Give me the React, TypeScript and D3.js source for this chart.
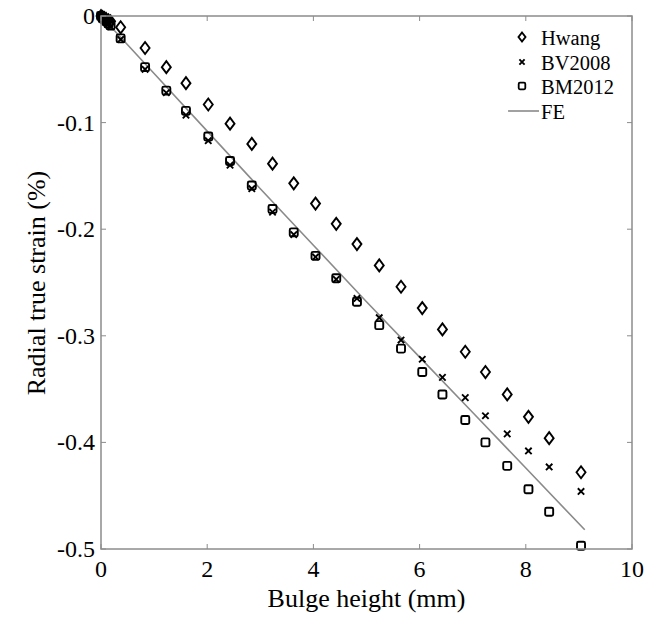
import React from "react";
import * as d3 from "d3";

const xValues = [0, 0.03, 0.06, 0.1, 0.14, 0.18, 0.37, 0.83, 1.23, 1.6, 2.02, 2.43, 2.84, 3.23, 3.63, 4.04, 4.43, 4.82, 5.24, 5.65, 6.05, 6.43, 6.86, 7.24, 7.65, 8.05, 8.44, 9.04];
const hwang = [0, -0.001, -0.002, -0.003, -0.004, -0.005, -0.0106, -0.030, -0.048, -0.063, -0.083, -0.101, -0.120, -0.1385, -0.157, -0.176, -0.195, -0.214, -0.234, -0.254, -0.274, -0.294, -0.315, -0.334, -0.355, -0.376, -0.396, -0.428];
const bv2008 = [0, -0.002, -0.003, -0.005, -0.007, -0.010, -0.022, -0.050, -0.072, -0.093, -0.117, -0.140, -0.162, -0.184, -0.205, -0.226, -0.247, -0.265, -0.283, -0.304, -0.322, -0.339, -0.358, -0.375, -0.392, -0.408, -0.423, -0.446];
const bm2012 = [0, -0.002, -0.003, -0.005, -0.007, -0.009, -0.021, -0.048, -0.070, -0.089, -0.113, -0.136, -0.159, -0.181, -0.203, -0.225, -0.246, -0.268, -0.290, -0.312, -0.334, -0.355, -0.379, -0.400, -0.422, -0.444, -0.465, -0.497];
const feX = [0, 1, 2, 3, 4, 5, 6, 7, 8, 9.11];
const feY = [0, -0.054, -0.108, -0.162, -0.215, -0.268, -0.320, -0.372, -0.424, -0.482];
const xTicks = [0, 2, 4, 6, 8, 10];
const yTicks = [0, -0.1, -0.2, -0.3, -0.4, -0.5];
const legendLabels = ["Hwang", "BV2008", "BM2012", "FE"];

const W = 661, H = 619;
const L = 101, R = 632, T = 16, B = 549;
const FONT = "'Liberation Serif', 'Times New Roman', serif";
const AXIS = "#8c8c8c";

export default function App() {
  const x = d3.scaleLinear().domain([0, 10]).range([L, R]);
  const y = d3.scaleLinear().domain([-0.5, 0]).range([B, T]);
  const line = d3.line<number>().x((_, i) => x(feX[i])).y((d) => y(d));

  const diamond = (cx: number, cy: number, w = 4.5, h = 6) =>
    `M${cx},${cy - h}L${cx + w},${cy}L${cx},${cy + h}L${cx - w},${cy}Z`;
  const cross = (cx: number, cy: number, s = 3.2) =>
    `M${cx - s},${cy - s}L${cx + s},${cy + s}M${cx - s},${cy + s}L${cx + s},${cy - s}`;

  const tl = 5;
  const legX = 522, legY = [37, 62, 86, 111];

  return (
    <svg width={W} height={H} style={{ position: "absolute", left: 0, top: 0, background: "#fff" }}>
      <rect x={0} y={0} width={W} height={H} fill="#fff" />
      {/* FE line */}
      <path d={line(feY) || ""} fill="none" stroke="#8a8a8a" strokeWidth={1.6} />
      {/* BM2012 squares */}
      {bm2012.map((v, i) => (
        <rect key={"s" + i} x={x(xValues[i]) - 4} y={y(v) - 4} width={8} height={8} rx={1.5}
          fill="none" stroke="#000" strokeWidth={1.9} />
      ))}
      {/* BV2008 crosses */}
      {bv2008.map((v, i) => (
        <path key={"c" + i} d={cross(x(xValues[i]), y(v))} stroke="#000" strokeWidth={1.9} fill="none" />
      ))}
      {/* Hwang diamonds */}
      {hwang.map((v, i) => (
        <path key={"d" + i} d={diamond(x(xValues[i]), y(v))} stroke="#000" strokeWidth={1.9} fill="none" />
      ))}
      {/* axes box */}
      <rect x={L} y={T} width={R - L} height={B - T} fill="none" stroke={AXIS} strokeWidth={1.5} />
      {xTicks.map((t) => (
        <g key={"xt" + t}>
          <line x1={x(t)} x2={x(t)} y1={B} y2={B - tl} stroke={AXIS} strokeWidth={1} />
          <line x1={x(t)} x2={x(t)} y1={T} y2={T + tl} stroke={AXIS} strokeWidth={1} />
          <text x={x(t)} y={577} textAnchor="middle" fontFamily={FONT} fontSize={24} fill="#000">{t}</text>
        </g>
      ))}
      {yTicks.map((t) => (
        <g key={"yt" + t}>
          <line x1={L} x2={L + tl} y1={y(t)} y2={y(t)} stroke={AXIS} strokeWidth={1} />
          <line x1={R} x2={R - tl} y1={y(t)} y2={y(t)} stroke={AXIS} strokeWidth={1} />
          <text x={L - 6} y={y(t) + 8} textAnchor="end" fontFamily={FONT} fontSize={24} fill="#000">{t === 0 ? "0" : String(t)}</text>
        </g>
      ))}
      <text x={(L + R) / 2} y={607} textAnchor="middle" fontFamily={FONT} fontSize={26} fill="#000">Bulge height (mm)</text>
      <text transform={`translate(45, 283) rotate(-90)`} textAnchor="middle" fontFamily={FONT} fontSize={26} fill="#000">Radial true strain (%)</text>
      {/* legend */}
      <path d={diamond(legX, legY[0], 3.5, 4.5)} stroke="#000" strokeWidth={1.9} fill="none" />
      <path d={cross(legX, legY[1], 2.6)} stroke="#000" strokeWidth={1.9} fill="none" />
      <rect x={legX - 3.3} y={legY[2] - 3.3} width={6.6} height={6.6} rx={1.2} stroke="#000" strokeWidth={1.8} fill="none" />
      <line x1={508} x2={539} y1={legY[3]} y2={legY[3]} stroke="#8a8a8a" strokeWidth={1.6} />
      {legendLabels.map((lab, i) => (
        <text key={lab} x={541} y={legY[i] + 7.5} fontFamily={FONT} fontSize={20.5} fill="#000">{lab}</text>
      ))}
    </svg>
  );
}
